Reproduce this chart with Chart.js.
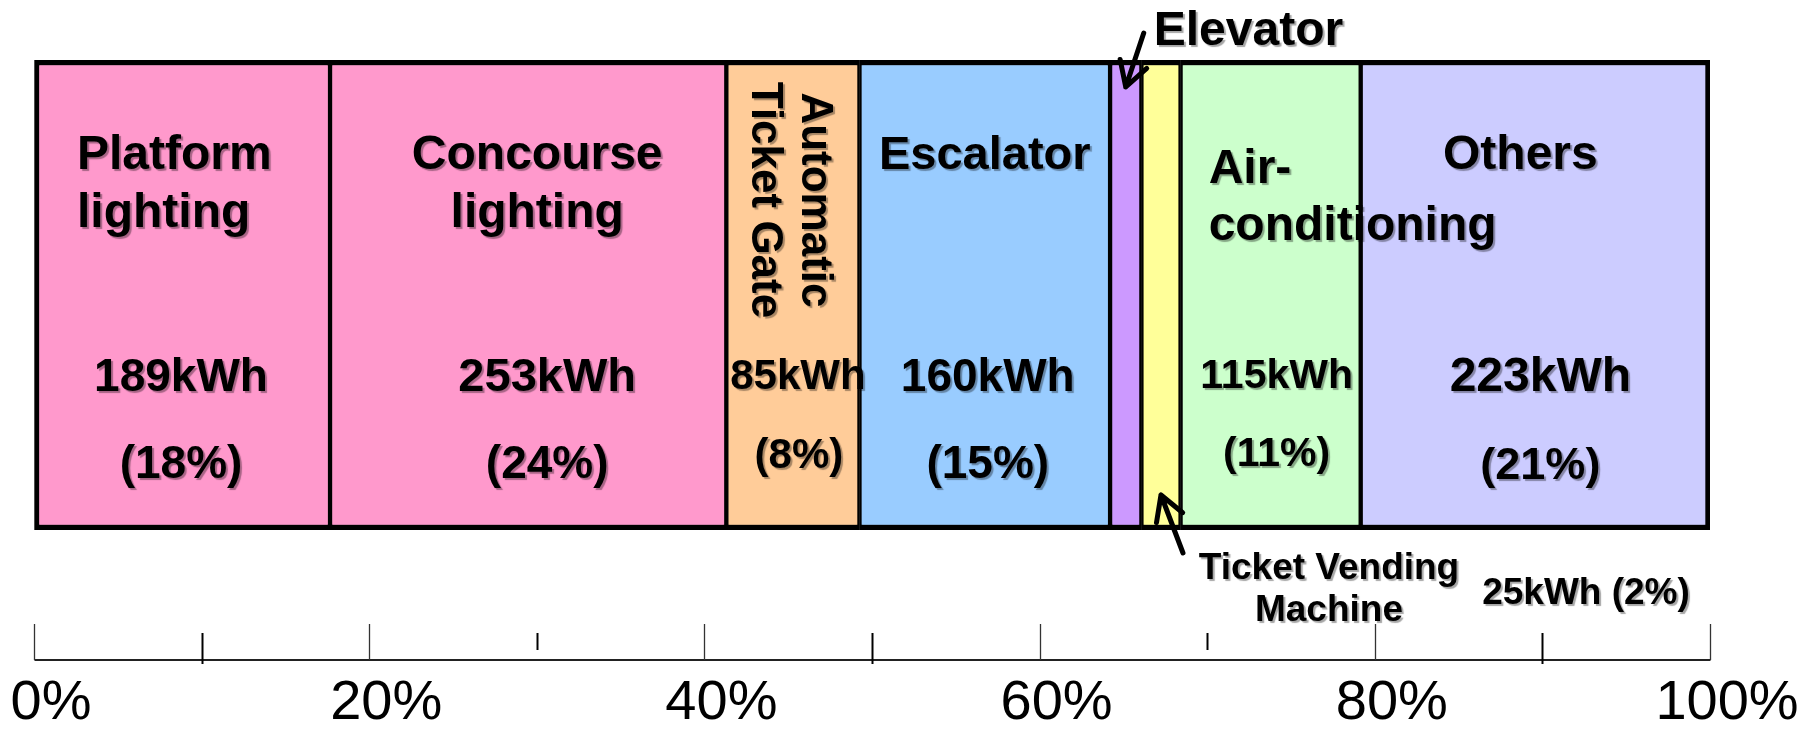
<!DOCTYPE html>
<html>
<head>
<meta charset="utf-8">
<script src="https://cdn.jsdelivr.net/npm/chart.js@4.4.1/dist/chart.umd.min.js"></script>
<style>
  html, body { margin: 0; padding: 0; background: #fff; }
</style>
</head>
<body>
<canvas id="energyChart" width="1814" height="729"></canvas>
<script>
// station energy use per day, by equipment
const categories = ['Platform lighting', 'Concourse lighting', 'Automatic Ticket Gate', 'Escalator',
                    'Elevator', 'Ticket Vending Machine', 'Air-conditioning', 'Others'];
const nameLines = [['Platform', 'lighting'], ['Concourse', 'lighting'], ['Automatic', 'Ticket Gate'], ['Escalator'],
                   ['Elevator'], ['Ticket Vending', 'Machine'], ['Air-', 'conditioning'], ['Others']];
const energyKwh = [189, 253, 85, 160, 20, 25, 115, 223];
const fillColors = ['#ff99cc', '#ff99cc', '#ffcc99', '#99ccff', '#cc99ff', '#ffff99', '#ccffcc', '#ccccff'];

const tickPercents = [0, 20, 40, 60, 80, 100];
const tickLabels = ['0%', '20%', '40%', '60%', '80%', '100%'];
const crossTickPercents = [10, 50, 90];
const shortTickPercents = [30, 70];

const total = energyKwh.reduce((a, b) => a + b, 0);

// where each segment's text sits: dx from the segment centre, y = baseline
const textLayout = [
  { name: { dx: [-105, -105], y: [169, 227], size: 48, align: 'left' }, value: { dx: -1, y: 391, size: 46 }, share: { dx: -1, y: 478, size: 46 } },
  { name: { dx: [9, 9], y: [169, 227], size: 48 }, value: { dx: 19, y: 391, size: 47 }, share: { dx: 19, y: 478, size: 46 } },
  { name: { dx: [9, -41], y: [200, 200], size: 44, rotate: true }, value: { dx: 5, y: 389, size: 42 }, share: { dx: 6, y: 468, size: 42 } },
  { name: { dx: [0], y: [169], size: 47 }, value: { dx: 3, y: 391, size: 46 }, share: { dx: 3, y: 478, size: 46 } },
  { name: { dx: [28], y: [45], size: 48, align: 'left' }, arrow: { from: [18, 33], to: [0, 87] } },
  { name: { dx: [168, 168], y: [579, 621], size: 37 }, combined: { dx: 425, y: 604, size: 37 }, arrow: { from: [22, 553], to: [0, 495] } },
  { name: { dx: [-62, -62], y: [183, 240], size: 48, align: 'left' }, value: { dx: 6, y: 388, size: 41 }, share: { dx: 6, y: 466, size: 41 } },
  { name: { dx: [-15], y: [169], size: 48 }, value: { dx: 5, y: 391, size: 48 }, share: { dx: 5, y: 479, size: 45 } }
];

const SANS = '"Liberation Sans", Arial, sans-serif';

function hasNarrowFont() {
  const c = document.createElement('canvas').getContext('2d');
  c.font = '64px "Liberation Sans Narrow", monospace';
  const a = c.measureText('100%').width;
  c.font = '64px monospace';
  return a !== c.measureText('100%').width;
}
const tickFont = hasNarrowFont()
  ? { family: '"Liberation Sans Narrow", ' + SANS, size: 64 }
  : { family: SANS, size: 56 };
tickFont.lineHeight = 50 / tickFont.size;

function drawText(ctx, text, x, y, size, align, rotate) {
  ctx.save();
  ctx.font = 'bold ' + size + 'px ' + SANS;
  ctx.fillStyle = '#000';
  ctx.textAlign = align || 'center';
  ctx.textBaseline = 'alphabetic';
  ctx.shadowColor = 'rgba(0,0,0,0.35)';
  ctx.shadowOffsetX = 2;
  ctx.shadowOffsetY = 2;
  ctx.shadowBlur = 1;
  ctx.translate(x, y);
  if (rotate) ctx.rotate(Math.PI / 2);
  ctx.fillText(text, 0, 0);
  ctx.restore();
}

function drawArrow(ctx, x1, y1, x2, y2) {
  const ang = Math.atan2(y2 - y1, x2 - x1);
  const head = 28;
  ctx.save();
  ctx.strokeStyle = '#000';
  ctx.lineWidth = 5;
  ctx.lineCap = 'round';
  ctx.lineJoin = 'round';
  ctx.beginPath();
  ctx.moveTo(x1, y1);
  ctx.lineTo(x2, y2);
  ctx.moveTo(x2 - head * Math.cos(ang - Math.PI / 6), y2 - head * Math.sin(ang - Math.PI / 6));
  ctx.lineTo(x2, y2);
  ctx.lineTo(x2 - head * Math.cos(ang + Math.PI / 6), y2 - head * Math.sin(ang + Math.PI / 6));
  ctx.stroke();
  ctx.restore();
}

// names, kWh and share written on (or next to) each segment
const segmentLabels = {
  id: 'segmentLabels',
  afterDatasetsDraw(chart) {
    const ctx = chart.ctx;
    const x = chart.scales.x;
    let start = 0;
    energyKwh.forEach((v, i) => {
      const cx = x.getPixelForValue(start + v / 2);
      start += v;
      const spec = textLayout[i];
      const share = Math.round(v / total * 100) + '%';
      nameLines[i].forEach((line, k) => {
        drawText(ctx, line, cx + spec.name.dx[k], spec.name.y[k], spec.name.size, spec.name.align, spec.name.rotate);
      });
      if (spec.value) drawText(ctx, v + 'kWh', cx + spec.value.dx, spec.value.y, spec.value.size);
      if (spec.share) drawText(ctx, '(' + share + ')', cx + spec.share.dx, spec.share.y, spec.share.size);
      if (spec.combined) drawText(ctx, v + 'kWh (' + share + ')', cx + spec.combined.dx, spec.combined.y, spec.combined.size);
      if (spec.arrow) {
        drawArrow(ctx, cx + spec.arrow.from[0], spec.arrow.from[1], cx + spec.arrow.to[0], spec.arrow.to[1]);
      }
    });
  }
};

// ruler-style axis line and tick marks below the bar
const axisMarks = {
  id: 'axisMarks',
  afterDraw(chart) {
    const ctx = chart.ctx;
    const x = chart.scales.x;
    const axisY = chart.chartArea.bottom + 130;
    const px = p => Math.round(x.getPixelForValue(total * p / 100)) + 0.5;
    ctx.save();
    ctx.strokeStyle = '#222';
    ctx.lineWidth = 2;
    ctx.beginPath();
    ctx.moveTo(px(0), axisY);
    ctx.lineTo(px(100), axisY);
    ctx.stroke();
    ctx.lineWidth = 1.3;
    ctx.strokeStyle = '#333';
    tickPercents.forEach(p => {
      ctx.beginPath();
      ctx.moveTo(px(p), axisY - 36);
      ctx.lineTo(px(p), axisY);
      ctx.stroke();
    });
    ctx.lineWidth = 2;
    ctx.strokeStyle = '#000';
    crossTickPercents.forEach(p => {
      ctx.beginPath();
      ctx.moveTo(px(p), axisY - 27);
      ctx.lineTo(px(p), axisY + 4);
      ctx.stroke();
    });
    shortTickPercents.forEach(p => {
      ctx.beginPath();
      ctx.moveTo(px(p), axisY - 27);
      ctx.lineTo(px(p), axisY - 10);
      ctx.stroke();
    });
    ctx.restore();
  }
};

const last = energyKwh.length - 1;
const datasets = energyKwh.map((v, i) => ({
  label: categories[i],
  data: [v],
  backgroundColor: fillColors[i],
  borderColor: '#000',
  borderWidth: { top: 5.5, bottom: 5.5, left: i === 0 ? 5 : 2.5, right: i === last ? 5 : 2.5 },
  borderSkipped: false,
  barPercentage: 1,
  categoryPercentage: 1
}));

new Chart(document.getElementById('energyChart').getContext('2d'), {
  type: 'bar',
  data: { labels: ['Station'], datasets },
  plugins: [segmentLabels, axisMarks],
  options: {
    indexAxis: 'y',
    responsive: false,
    animation: false,
    devicePixelRatio: 1,
    layout: { padding: { left: 34, right: 104, top: 60, bottom: 0 } },
    plugins: { legend: { display: false }, tooltip: { enabled: false } },
    scales: {
      y: { stacked: true, display: false },
      x: {
        type: 'linear',
        stacked: true,
        min: 0,
        max: total,
        afterBuildTicks: scale => {
          scale.ticks = tickPercents.map(p => ({ value: total * p / 100 }));
        },
        // the "0%" label may hang past the left edge of the bar
        afterFit: scale => {
          scale.paddingLeft = 0;
        },
        border: { display: false },
        grid: { drawOnChartArea: false, drawTicks: true, tickLength: 149, tickColor: 'rgba(0,0,0,0)' },
        ticks: {
          padding: 0,
          labelOffset: 17,
          maxRotation: 0,
          autoSkip: false,
          color: '#000',
          font: tickFont,
          callback: (value, index) => tickLabels[index]
        }
      }
    }
  }
});
</script>
</body>
</html>
